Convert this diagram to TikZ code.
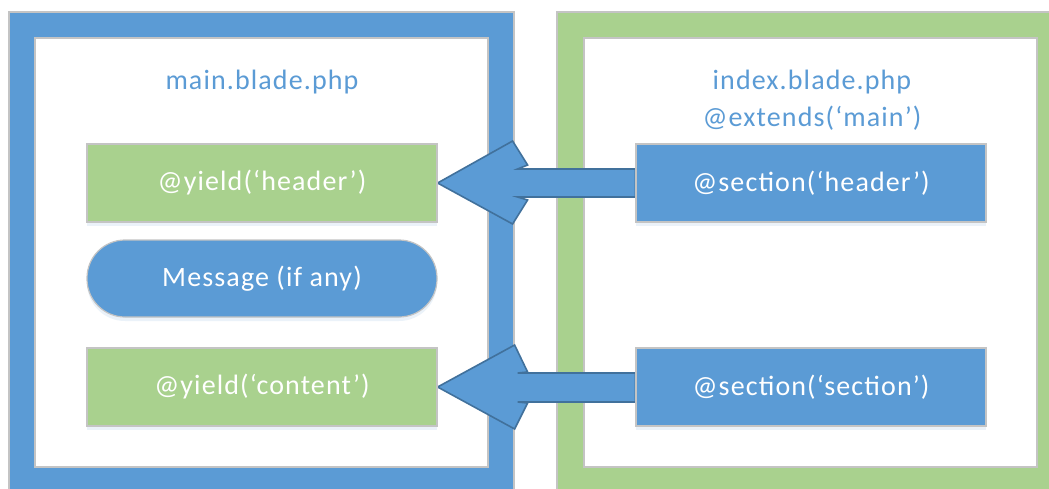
\documentclass[tikz,border=0pt]{standalone}
\usepackage{fontspec}
\setmainfont[LetterSpace=4]{Carlito}
\usetikzlibrary{calc,shadows}
\definecolor{bblue}{HTML}{5B9BD5}
\definecolor{bgreen}{HTML}{A9D18E}
\definecolor{edgeblue}{HTML}{41719C}
\definecolor{edgegray}{HTML}{C4C4C4}
\pgfdeclarelayer{back}
\pgfsetlayers{back,main}
\begin{document}
\begin{tikzpicture}[x=1pt,y=-1pt,
  framebox/.style={draw=edgegray,line width=1.2pt},
  innerwhite/.style={fill=white,draw=edgegray,line width=1.2pt},
  boxbase/.style={minimum width=350pt,minimum height=78pt,inner sep=0pt,
    draw=edgegray,line width=1.2pt,text=white,
    font=\fontsize{28}{32}\selectfont,
    drop shadow={shadow xshift=0pt,shadow yshift=-4pt,fill=bblue,opacity=0.12}},
  greenbox/.style={boxbase,fill=bgreen},
  bluebox/.style={boxbase,fill=bblue},
  pillbox/.style={boxbase,fill=bblue,rounded corners=38pt,minimum height=77pt},
  title/.style={text=bblue,font=\fontsize{28}{37}\selectfont,align=center,inner sep=0pt},
  bigarrow/.style={fill=bblue,draw=edgeblue,line width=1.6pt,line join=miter}]
\useasboundingbox (0,0) rectangle (1049,488);
% nodes
\node[title] (t1) at (262,82) {main.blade.php};
\node[title] (t2) at (812,100) {index.blade.php\\@extends(‘main’)};
\node[greenbox] (yh) at (262,183) {@yield(‘header’)};
\node[pillbox] (msg) at (262,278.5) {Message (if any)};
\node[greenbox] (yc) at (262,387) {@yield(‘content’)};
\node[bluebox] (sh) at (811,183) {@section(‘header’)};
\node[bluebox] (ss) at (811,387) {@section(‘section’)};
\begin{pgfonlayer}{back}
  \begin{scope}
    \clip (0,0) rectangle (1049,488);
    \fill[bblue] (9,12) rectangle (514,500);
    \draw[framebox] (9,12) rectangle (514,500);
    \draw[innerwhite] (35,38) rectangle (488,467);
    \fill[bgreen] (557,12) rectangle (1070,500);
    \draw[framebox] (557,12) rectangle (1070,500);
    \draw[innerwhite] (584,38) rectangle (1037,467);
  \end{scope}
  \draw[bigarrow] (yh.east) -- ++(75,-42) -- ++(15,24) -- ++(-10,4)
    -- ($(sh.west)+(0,-14)$) -- ($(sh.west)+(0,14)$)
    -- ($(yh.east)+(80,14)$) -- ++(10,3) -- ++(-15,24) -- cycle;
  \draw[bigarrow] (yc.east) -- ++(77,-42) -- ++(13,27) -- ++(-10,1)
    -- ($(ss.west)+(0,-14)$) -- ($(ss.west)+(0,15)$)
    -- ($(yc.east)+(80,15)$) -- ++(10,1) -- ++(-13,26) -- cycle;
\end{pgfonlayer}
\end{tikzpicture}
\end{document}
